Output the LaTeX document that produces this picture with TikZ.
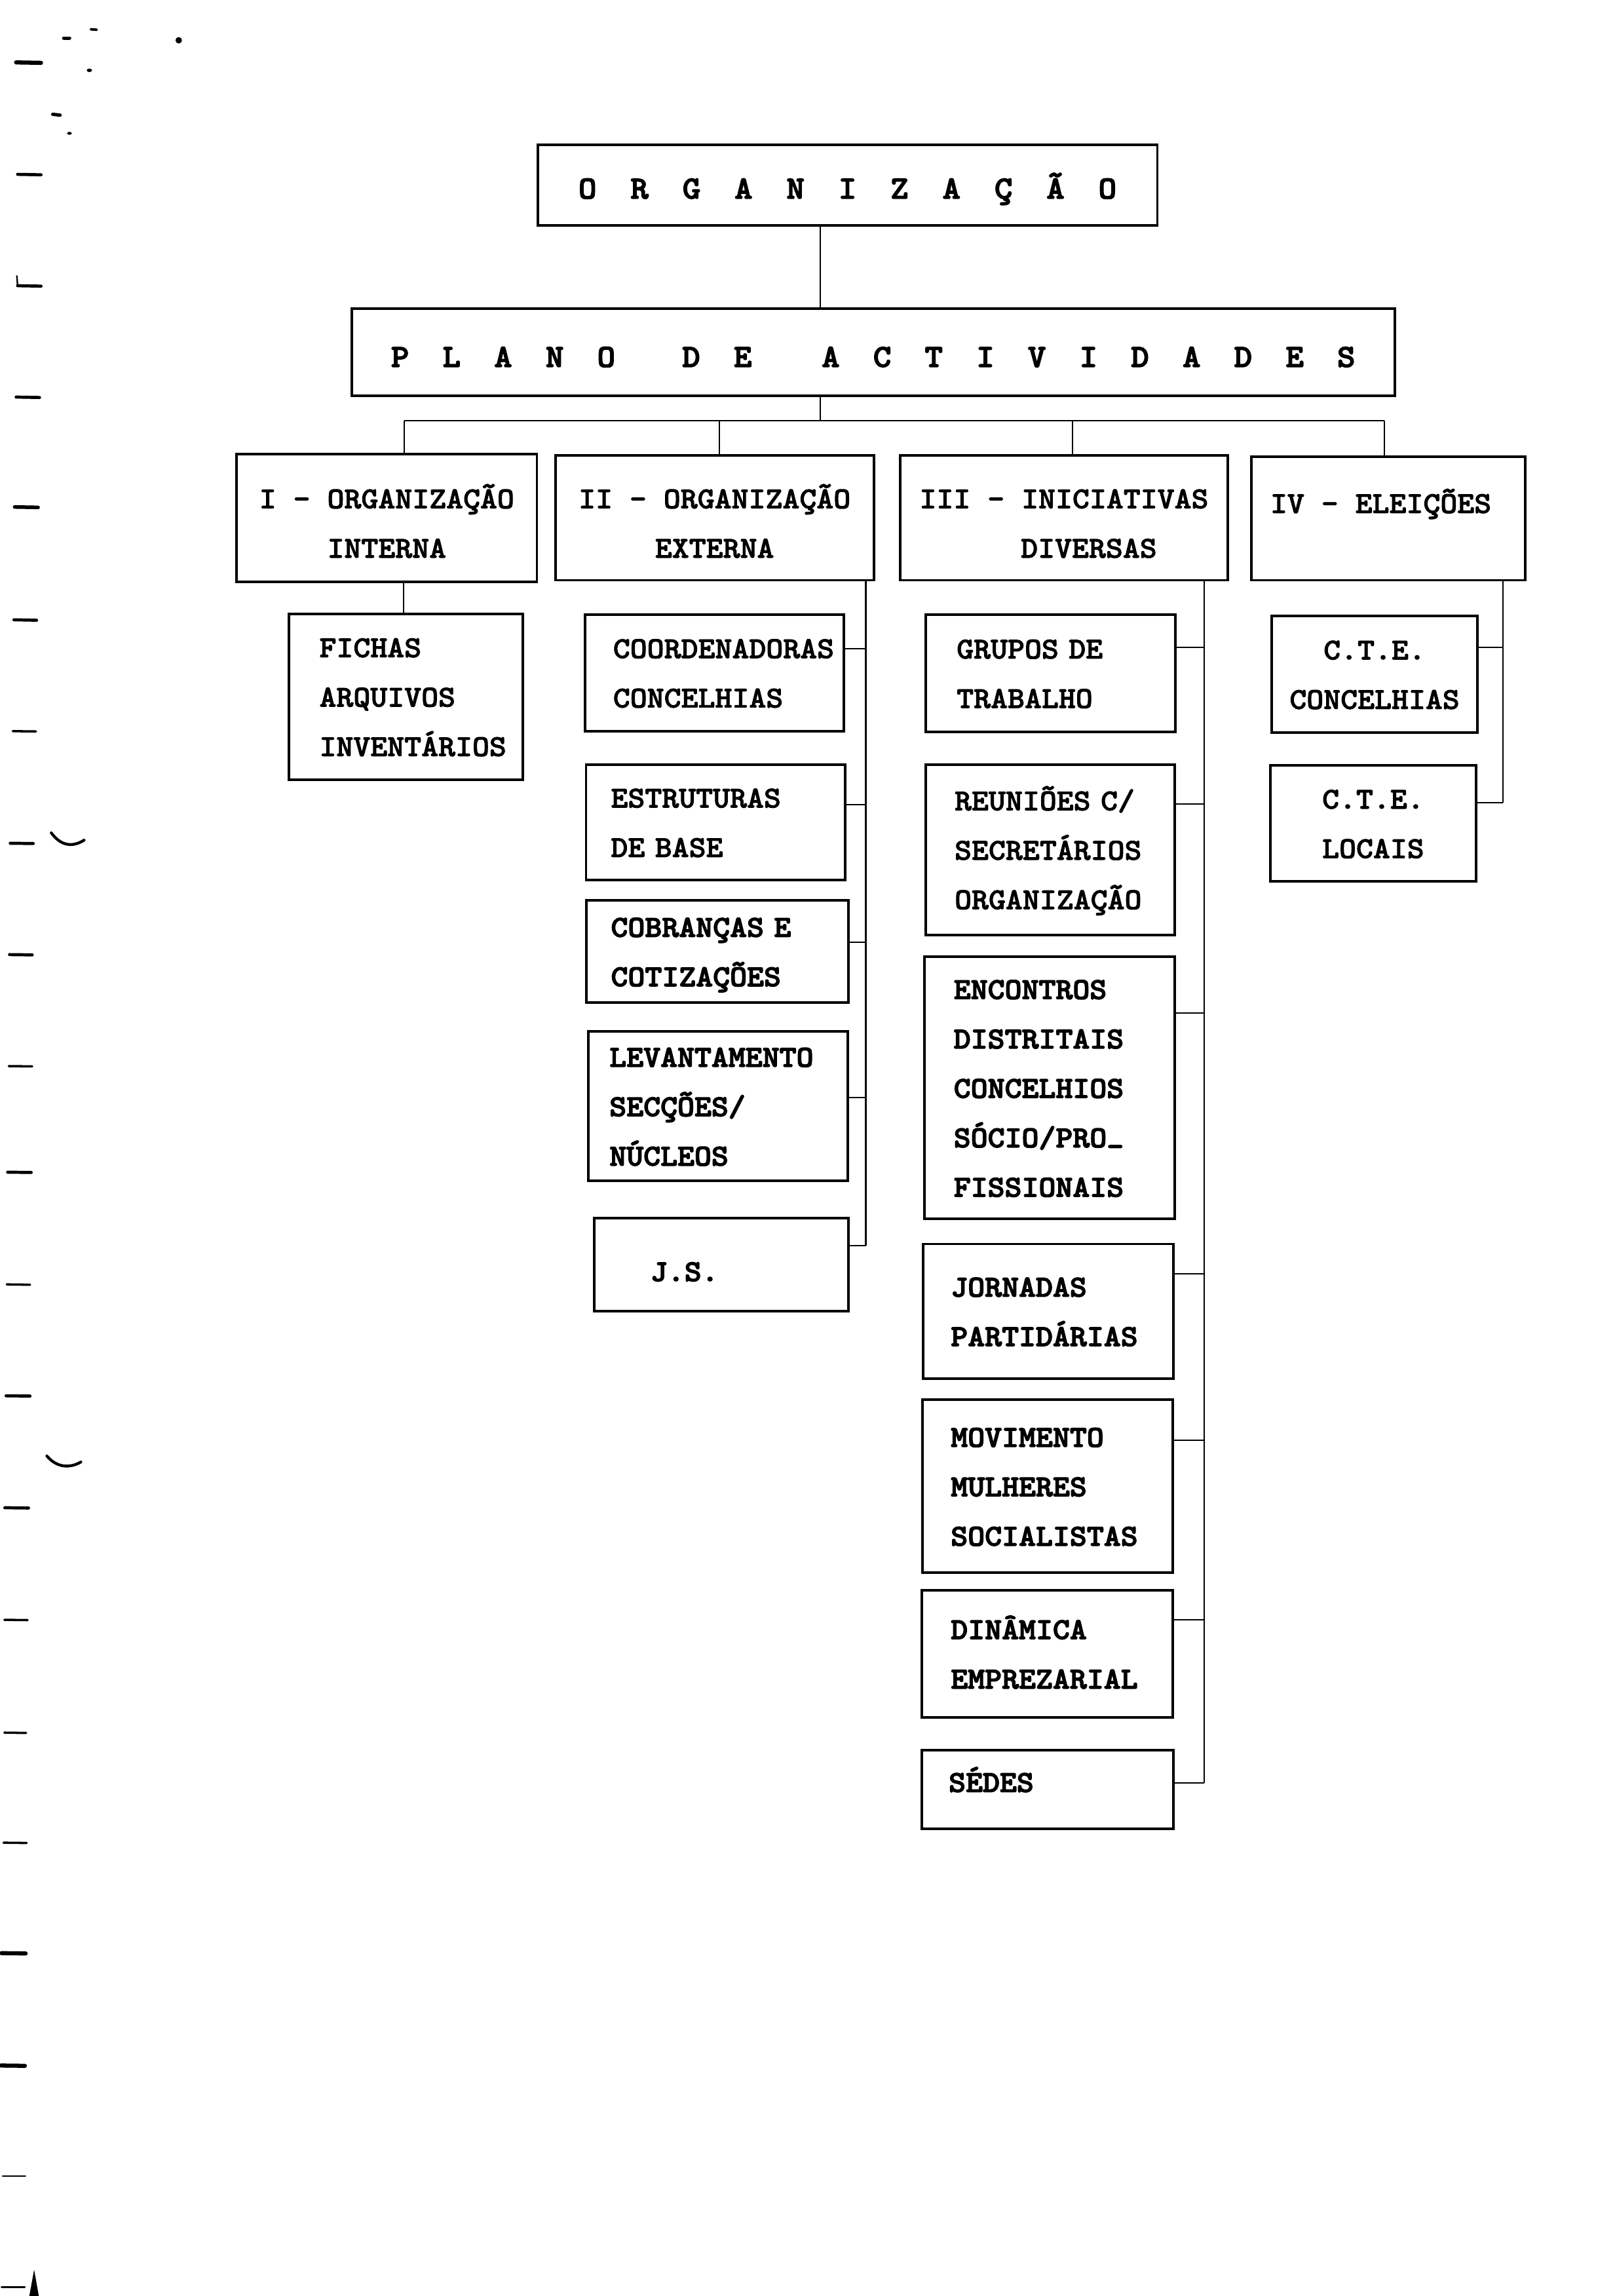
\documentclass[tikz,border=0pt]{standalone}
\usepackage{fontspec}
\newfontfamily\tw{lmmonolt10-bold.otf}[FakeStretch=1.066,FakeBold=2,HyphenChar=None]
\newfontfamily\twb{lmmonolt10-bold.otf}[FakeStretch=1.066,FakeBold=3,HyphenChar=None]
\newcommand\fsz{\fontsize{11.8pt}{19.2pt}\selectfont}
\newcommand\fbig{\fontsize{12.5pt}{15pt}\selectfont}
\newcommand\tbx[1]{\makebox[0.71cm]{#1}}
\newcommand\tby[1]{\makebox[0.704cm]{#1}}
\newcommand\tstrut{\rule{0pt}{\dimexpr0.7\baselineskip+0.14cm\relax}}
\begin{document}
\begin{tikzpicture}[x=0.02cm,y=-0.02cm,
  box/.style={draw,line width=1pt,inner ysep=0pt},
  lbox/.style={box,align=left,font=\tw\fsz},
  wbox/.style={box,align=left,font=\twb\fsz},
  hbox/.style={box,align=center,inner xsep=0pt,font=\tw\fsz},
  con/.style={line width=0.55pt},
  mk/.style={line width=1.2pt,line cap=round}]
\fill[white] (0,0) rectangle (1102,1567);
\useasboundingbox (0,0) rectangle (1102,1567);

% title boxes
\node[box,font=\twb\fbig,minimum width=8.46cm,minimum height=1.10cm,inner xsep=0pt,text height=0.4cm,text depth=0.04cm] (org) at (578.5,126.5)
 {\tbx{O}\tbx{R}\tbx{G}\tbx{A}\tbx{N}\tbx{I}\tbx{Z}\tbx{A}\tbx{Ç}\tbx{Ã}\tbx{O}};
\node[box,font=\twb\fbig,minimum width=14.24cm,minimum height=1.19cm,inner xsep=0pt,text height=0.45cm,text depth=0.044cm] (plano) at (596,240.25)
 {\tby{P}\tby{L}\tby{A}\tby{N}\tby{O}\hspace{0.456cm}\tby{D}\tby{E}\hspace{0.496cm}\tby{A}\tby{C}\tby{T}\tby{I}\tby{V}\tby{I}\tby{D}\tby{A}\tby{D}\tby{E}\tby{S}};

% headers
\node[hbox,minimum width=4.10cm,minimum height=1.74cm] (ci) at (264,353.5) {\tstrut I - ORGANIZAÇÃO\\\strut INTERNA};
\node[hbox,minimum width=4.35cm,minimum height=1.70cm] (cii) at (487.75,353.5) {\tstrut II - ORGANIZAÇÃO\\\strut EXTERNA};
\node[hbox,minimum width=4.47cm,minimum height=1.70cm] (ciii) at (726.25,353.5) {\tstrut III - INICIATIVAS\\\hspace*{0.68cm}\strut DIVERSAS};
\node[hbox,minimum width=3.74cm,minimum height=1.69cm,text height=0.3cm,text depth=0.446cm] (civ) at (947.5,353.75) {IV - ELEIÇÕES\hspace*{0.2cm}};

% column I
\node[lbox,minimum width=3.2cm,minimum height=2.26cm,inner xsep=0.42cm,text width=2.36cm] (fichas) at (277,475.5) {\strut FICHAS\\\strut ARQUIVOS\\\strut INVENTÁRIOS};

% column II
\node[lbox,minimum width=3.53cm,minimum height=1.59cm,inner xsep=0.38cm,text width=2.77cm] (coord) at (487.75,459.25) {\strut COORDENADORAS\\\strut CONCELHIAS};
\node[lbox,minimum width=3.54cm,minimum height=1.57cm,inner xsep=0.34cm,text width=2.86cm] (estr) at (488.5,561.25) {\strut ESTRUTURAS\\\strut DE BASE};
\node[wbox,minimum width=3.574cm,minimum height=1.394cm,inner xsep=0.334cm,text width=2.906cm] (cob) at (489.65,649.45) {\strut COBRANÇAS E\\\strut COTIZAÇÕES};
\node[wbox,minimum width=3.542cm,minimum height=2.04cm,inner xsep=0.288cm,text width=2.966cm] (lev) at (490.15,755) {\strut LEVANTAMENTO\\\strut SECÇÕES/\\\strut NÚCLEOS};
\node[wbox,minimum width=3.47cm,minimum height=1.27cm,inner xsep=0.77cm,text width=1.93cm,text height=0.5cm,text depth=0.056cm] (js) at (492.25,863.25) {J.S.};

% column III
\node[lbox,minimum width=3.406cm,minimum height=1.598cm,inner xsep=0.42cm,text width=2.566cm] (grupos) at (717.15,459.55) {\strut GRUPOS DE\\\strut TRABALHO};
\node[lbox,minimum width=3.40cm,minimum height=2.32cm,inner xsep=0.392cm,text width=2.616cm] (reun) at (717,580) {\strut REUNIÕES C/\\\strut SECRETÁRIOS\\\strut ORGANIZAÇÃO};
\node[wbox,minimum width=3.42cm,minimum height=3.58cm,inner xsep=0.404cm,text width=2.612cm] (enc) at (716.3,742.5) {\strut ENCONTROS\\\strut DISTRITAIS\\\strut CONCELHIOS\\\strut SÓCIO/PRO\raisebox{0.14em}{\_}\\\strut FISSIONAIS};
\node[wbox,minimum width=3.42cm,minimum height=1.84cm,inner xsep=0.38cm,text width=2.66cm] (jor) at (715.5,895) {\strut JORNADAS\\\strut PARTIDÁRIAS};
\node[wbox,minimum width=3.414cm,minimum height=2.36cm,inner xsep=0.384cm,text width=2.646cm] (mov) at (715.15,1014.4) {\strut MOVIMENTO\\\strut MULHERES\\\strut SOCIALISTAS};
\node[wbox,minimum width=3.43cm,minimum height=1.73cm,inner xsep=0.40cm,text width=2.63cm] (din) at (714.75,1128.75) {\strut DINÂMICA\\\strut EMPREZARIAL};
\node[wbox,minimum width=3.44cm,minimum height=1.068cm,inner xsep=0.372cm,text width=2.696cm,text height=0.3cm,text depth=0.234cm] (sedes) at (715,1221.3) {SÉDES};

% column IV
\node[hbox,minimum width=2.81cm,minimum height=1.592cm] (cte1) at (938.25,460.2) {\strut C.T.E.\\\strut CONCELHIAS};
\node[hbox,minimum width=2.812cm,minimum height=1.58cm] (cte2) at (937.3,562) {\strut C.T.E.\\\strut LOCAIS};

% connectors: top
\coordinate (k0) at (560,287);
\draw[con] (org.south -| k0) -- (plano.north -| k0);
\draw[con] (plano.south -| k0) -- (k0);
\coordinate (d1) at (276,287);
\coordinate (d2) at (491,287);
\coordinate (d3) at (732,287);
\coordinate (d4) at (945,287);
\draw[con] (d1) -- (d4);
\draw[con] (d1) -- (ci.north -| d1);
\draw[con] (d2) -- (cii.north -| d2);
\draw[con] (d3) -- (ciii.north -| d3);
\draw[con] (d4) -- (civ.north -| d4);
% column I
\coordinate (e1) at (275.5,400);
\draw[con] (ci.south -| e1) -- (fichas.north -| e1);
% column II
\coordinate (b1) at (591,442.7);
\coordinate (b2) at (591,549);
\coordinate (b3) at (591,643);
\coordinate (b4) at (591,749);
\coordinate (b5) at (591,850);
\draw[con] (cii.south -| b1) -- (b5);
\foreach \b/\n in {b1/coord,b2/estr,b3/cob,b4/lev,b5/js} \draw[con] (\b) -- (\n.east |- \b);
% column III
\coordinate (g1) at (822,442);
\coordinate (g2) at (822,548.6);
\coordinate (g3) at (822,691.3);
\coordinate (g4) at (822,869.5);
\coordinate (g5) at (822,983);
\coordinate (g6) at (822,1105.4);
\coordinate (g7) at (822,1217);
\draw[con] (ciii.south -| g1) -- (g7);
\foreach \b/\n in {g1/grupos,g2/reun,g3/enc,g4/jor,g5/mov,g6/din,g7/sedes} \draw[con] (\b) -- (\n.east |- \b);
% column IV
\coordinate (h1) at (1025.7,442);
\coordinate (h2) at (1025.7,548);
\draw[con] (civ.south -| h1) -- (h2);
\draw[con] (h1) -- (cte1.east |- h1);
\draw[con] (h2) -- (cte2.east |- h2);

% margin marks of the scanned page
\draw[mk,line width=1.6pt] (11,42.6) -- (28,42.9);
\draw[mk] (12,119) -- (28,119.3);
\draw[mk] (12,195) -- (28,195.3);
\draw[line width=0.6pt] (11.5,188) -- (12,195);
\draw[mk] (11,271) -- (27,271.3);
\draw[mk,line width=1.4pt] (10,346) -- (26,346.3);
\draw[mk] (9.5,423) -- (25,423.3);
\draw[mk,line width=0.9pt] (8.7,499) -- (24.5,499.2);
\draw[mk] (7,575.5) -- (22.7,575.7);
\draw[mk,line width=1.1pt] (35,568.4) .. controls (42,578) and (50,578) .. (57.4,573.4);
\draw[mk] (6.5,651.5) -- (22,651.7);
\draw[mk,line width=0.9pt] (6,727.6) -- (22,727.8);
\draw[mk] (5.2,800) -- (21.3,800.2);
\draw[mk,line width=0.9pt] (4.6,876.6) -- (20.5,876.8);
\draw[mk] (4.2,952.6) -- (20.5,952.8);
\draw[mk,line width=1.1pt] (32,993.7) .. controls (39,1002) and (48,1002) .. (55.2,997.8);
\draw[mk] (3.3,1029) -- (19.5,1029.2);
\draw[mk,line width=0.9pt] (3,1105.5) -- (18.8,1105.7);
\draw[mk,line width=0.9pt] (3,1182.5) -- (17.8,1182.7);
\draw[mk,line width=0.9pt] (2.4,1257.6) -- (18.2,1257.8);
\draw[mk,line width=1.6pt] (1,1333) -- (17.5,1333.2);
\draw[mk,line width=1.6pt] (0.6,1409.7) -- (17,1409.9);
\draw[mk,line width=0.6pt] (1.8,1485) -- (17.3,1485);
\draw[mk,line width=0.6pt] (1,1561) -- (17,1561);
\fill (23.3,1549) -- (26.5,1567) -- (20,1567) -- cycle;
% specks at the top left
\draw[mk,line width=1.3pt] (43.5,26) -- (47.5,26);
\draw[mk,line width=1pt] (62,20) -- (66,20.3);
\fill (122,27.5) circle (2.2);
\fill (61,48) ellipse (1.8 and 1.2);
\draw[mk,line width=1.3pt] (36,78) -- (41,78.6);
\fill (47.4,91) ellipse (1.6 and 1);
\end{tikzpicture}
\end{document}
